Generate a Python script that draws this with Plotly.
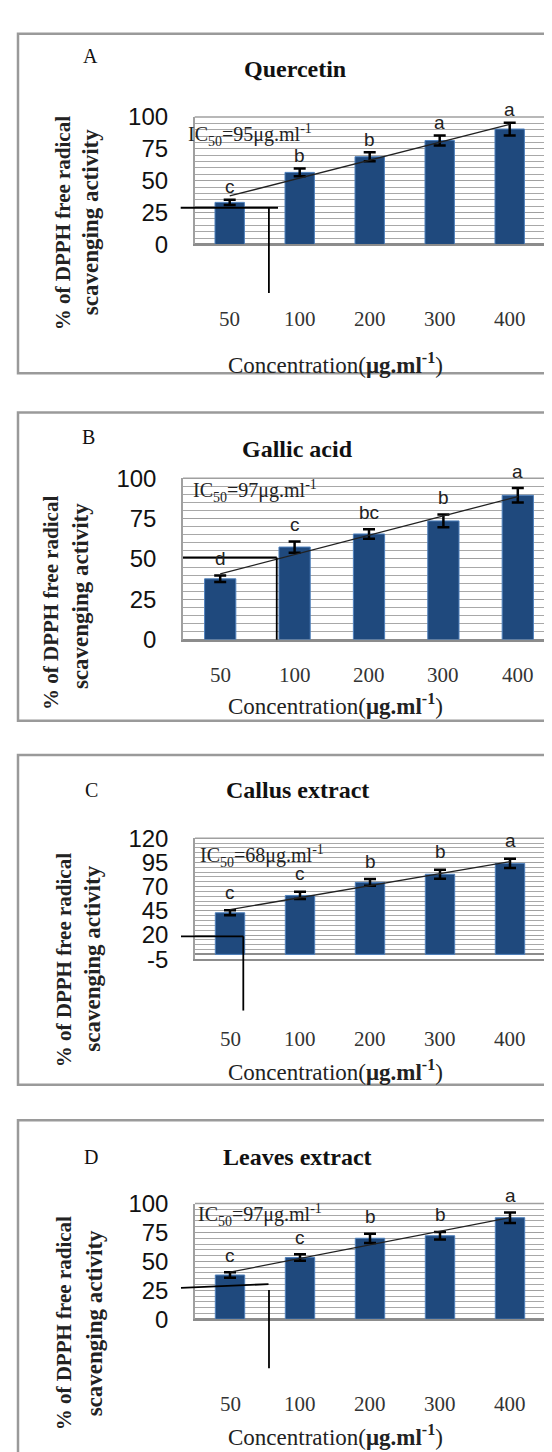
import numpy as np
import plotly.graph_objects as go

# ---------------- data ----------------
categories = ["50", "100", "200", "300", "400"]

quercetin_vals = [33.0, 56.5, 68.8, 81.5, 90.5]
quercetin_err = [2.0, 3.0, 3.5, 4.0, 5.0]
quercetin_letters = ["c", "b", "b", "a", "a"]

gallic_vals = [37.7, 57.4, 65.5, 73.6, 89.5]
gallic_err = [2.0, 3.5, 3.0, 4.0, 4.5]
gallic_letters = ["d", "c", "bc", "b", "a"]

callus_vals = [43.0, 60.9, 74.4, 82.8, 94.0]
callus_err = [2.5, 3.7, 3.4, 4.7, 4.7]
callus_letters = ["c", "c", "b", "b", "a"]

leaves_vals = [38.2, 53.3, 70.0, 72.2, 87.8]
leaves_err = [2.4, 2.8, 4.0, 3.3, 4.5]
leaves_letters = ["c", "c", "b", "b", "a"]

panel_letters = ["A", "B", "C", "D"]
panel_titles = ["Quercetin", "Gallic acid", "Callus extract", "Leaves extract"]
ic50_values = [95, 97, 68, 97]

yticks_std = [0, 25, 50, 75, 100]
yticks_callus = [-5, 20, 45, 70, 95, 120]

# hand-drawn IC50 guide lines (category index, % value)
guide_h = [(-0.7, 28.8, 0.69, 28.8), (-0.5, 50.9, 0.76, 50.9),
           (-0.7, 18.6, 0.19, 18.6), (-0.7, 27.0, 0.55, 30.3)]
guide_v = [(0.56, 28.8, 0.56, -38.0), (0.76, 50.9, 0.76, 0.0),
           (0.19, 18.6, 0.19, -58.0), (0.557, 25.2, 0.557, -42.5)]

# ---------------- layout geometry (pixels) ----------------
W, H = 552, 1452
geo = [
    dict(l=186.7, r=536.7, t=96.7, b=226.7, rng=[0, 100], ticks=yticks_std,
         box=(10, 12, 600, 358), let=(82, 35), tit=(287, 48), xl=303, xt=348,
         yt1=(55, 205), yt2=(82, 204), ic=(-0.62, 86), lshift=13),
    dict(l=175, r=547, t=465, b=629.3, rng=[0, 100], ticks=yticks_std,
         box=(10, 398, 600, 712), let=(80, 423), tit=(289, 435), xl=665, xt=695,
         yt1=(43, 592), yt2=(72, 585), ic=(-0.39, 92), lshift=17),
    dict(l=187, r=537, t=831.7, b=955, rng=[-5, 120], ticks=yticks_callus,
         box=(10, 747, 600, 1083), let=(83, 783), tit=(289, 783), xl=1036, xt=1068,
         yt1=(56, 956), yt2=(84.5, 955), ic=(-0.46, 101.4), lshift=18),
    dict(l=187, r=537, t=1204, b=1321.7, rng=[0, 100], ticks=yticks_std,
         box=(10, 1119, 600, 1500), let=(83, 1157), tit=(289, 1157), xl=1408, xt=1440,
         yt1=(56, 1326), yt2=(86, 1326), ic=(-0.49, 90), lshift=17),
]

series = [
    (quercetin_vals, quercetin_err, quercetin_letters),
    (gallic_vals, gallic_err, gallic_letters),
    (callus_vals, callus_err, callus_letters),
    (leaves_vals, leaves_err, leaves_letters),
]

px = lambda x: x / W
py = lambda y: 1 - y / H

def to_paper(g, xi, v):
    slot = (g["r"] - g["l"]) / 5.0
    xp = g["l"] + (xi + 0.5) * slot
    r0, r1 = g["rng"]
    yp = g["b"] - (v - r0) / (r1 - r0) * (g["b"] - g["t"])
    return px(xp), py(yp)

SERIF = "Liberation Serif, Times New Roman, serif"
SANS = "Liberation Sans, Arial, sans-serif"

fig = go.Figure()
shapes, annotations = [], []
layout_axes = {}

def ann(x, y, text, size, family=SERIF, color="#222", **kw):
    d = dict(x=x, y=y, xref="paper", yref="paper", text=text, showarrow=False,
             xanchor=kw.pop("xanchor", "center"), yanchor=kw.pop("yanchor", "middle"),
             font=dict(family=family, size=size, color=color))
    d.update(kw)
    annotations.append(d)

for i, (g, (vals, errs, lets)) in enumerate(zip(geo, series)):
    n = "" if i == 0 else str(i + 1)
    xa, ya = "x" + n, "y" + n
    fig.add_trace(go.Bar(
        x=categories, y=vals, xaxis=xa, yaxis=ya, width=0.42,
        marker=dict(color="#1f497d", line=dict(color="#4f81bd", width=1)),
        error_y=dict(type="data", array=errs, color="black", thickness=2.5, width=6),
        showlegend=False))
    idx = np.arange(len(vals))
    k, c0 = np.polyfit(idx, vals, 1)
    fig.add_trace(go.Scatter(
        x=[categories[0], categories[-1]], y=[c0, c0 + k * idx[-1]],
        xaxis=xa, yaxis=ya, mode="lines", line=dict(color="#222", width=1.3),
        showlegend=False, hoverinfo="skip"))

    layout_axes["xaxis" + n] = dict(
        domain=[px(g["l"]), px(g["r"])], anchor=ya, type="category",
        range=[-0.5, 4.5], showticklabels=False, showgrid=False,
        showline=True, linecolor="#8c8c8c", linewidth=1.5, ticks="", fixedrange=True)
    layout_axes["yaxis" + n] = dict(
        domain=[py(g["b"]), py(g["t"])], anchor=xa, range=g["rng"],
        tickmode="array", tickvals=g["ticks"], ticktext=[str(t) for t in g["ticks"]],
        tickfont=dict(family=SANS, size=24, color="#111"),
        ticks="outside", ticklen=20, tickcolor="rgba(0,0,0,0)",
        showgrid=True, gridcolor="#a0a0a0", gridwidth=1,
        minor=dict(tick0=g["rng"][0], dtick=5, showgrid=True, gridcolor="#a8a8a8", gridwidth=1),
        zeroline=True, zerolinecolor="#8c8c8c", zerolinewidth=1.5,
        showline=True, linecolor="#a0a0a0", linewidth=1.5, fixedrange=True)

    # plot top border line
    x0p, y1p = to_paper(g, -0.5, g["rng"][1])
    x1p, _ = to_paper(g, 4.5, g["rng"][1])
    shapes.append(dict(type="line", xref="paper", yref="paper", x0=x0p, x1=x1p,
                       y0=y1p, y1=y1p, line=dict(color="#a0a0a0", width=1.5)))

    # panel frame
    bx0, by0, bx1, by1 = g["box"]
    shapes.append(dict(type="rect", xref="paper", yref="paper",
                       x0=px(bx0), x1=px(bx1), y0=py(by0), y1=py(by1),
                       line=dict(color="#9a9a9a", width=2.5)))

    # IC50 guide lines
    for seg in (guide_h[i], guide_v[i]):
        a0 = to_paper(g, seg[0], seg[1])
        a1 = to_paper(g, seg[2], seg[3])
        shapes.append(dict(type="line", xref="paper", yref="paper",
                           x0=a0[0], y0=a0[1], x1=a1[0], y1=a1[1],
                           line=dict(color="black", width=1.8)))

    # significance letters
    for j, (v, e, L) in enumerate(zip(vals, errs, lets)):
        xp_, yp_ = to_paper(g, j, v + e)
        ann(xp_, yp_, L, 19, family=SANS, color="#222", yshift=g["lshift"])

    # IC50 text
    xp_, yp_ = to_paper(g, g["ic"][0], g["ic"][1])
    ann(xp_, yp_, "IC<sub>50</sub>=%dμg.ml<sup>-1</sup>" % ic50_values[i], 20,
        xanchor="left")

    # x tick labels
    for j, cat in enumerate(categories):
        xp_, _ = to_paper(g, j, 0)
        ann(xp_, py(g["xl"]), cat, 21, color="#333")

    # x axis title
    ann(px(327), py(g["xt"]), "Concentration(<b>μg.ml<sup>-1</sup></b>)", 23)

    # y axis title (two lines)
    ann(px(g["yt1"][0]), py(g["yt1"][1]), "<b>% of DPPH free radical</b>", 21,
        textangle=-90)
    ann(px(g["yt2"][0]), py(g["yt2"][1]), "<b>scavenging activity</b>", 23,
        textangle=-90)

    # panel letter and title
    ann(px(g["let"][0]), py(g["let"][1]), panel_letters[i], 20, color="#111")
    ann(px(g["tit"][0]), py(g["tit"][1]), "<b>%s</b>" % panel_titles[i], 24,
        color="#111")

fig.update_layout(
    width=W, height=H, margin=dict(l=0, r=0, t=0, b=0),
    paper_bgcolor="white", plot_bgcolor="white",
    shapes=shapes, annotations=annotations, bargap=0.5,
    **layout_axes)

fig.write_html("out.html")
